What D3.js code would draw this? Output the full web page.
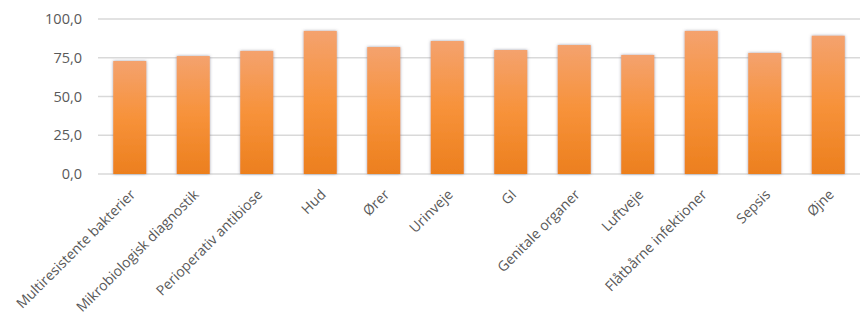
<!DOCTYPE html>
<html><head><meta charset="utf-8">
<script src="https://cdn.jsdelivr.net/npm/d3@7/dist/d3.min.js"></script>
<style>
html,body{margin:0;padding:0;background:#fff;}
svg{display:block;}
text{font-family:"Open Sans",sans-serif;fill:#595959;}
</style></head>
<body>
<svg id="chart" width="861" height="318"></svg>
<script>
const categories = ["Multiresistente bakterier","Mikrobiologisk diagnostik","Perioperativ antibiose","Hud","Ører","Urinveje","GI","Genitale organer","Luftveje","Flåtbårne infektioner","Sepsis","Øjne"];
const values = [72.9, 76.1, 79.4, 92.3, 81.9, 85.8, 80.0, 83.2, 76.8, 92.3, 78.1, 89.2];
const yTicks = [0, 25, 50, 75, 100];

(function(){
const svg = d3.select("#chart");
const mLeft = 98, mRight = 860, mTop = 19, mBottom = 174;

const x = d3.scaleBand().domain(categories).range([mLeft, mRight]).paddingInner(0.48).paddingOuter(0.24);
const y = d3.scaleLinear().domain([0, 100]).range([mBottom, mTop]);

const defs = svg.append("defs");
const grad = defs.append("linearGradient").attr("id","barGrad").attr("x1",0).attr("y1",0).attr("x2",0).attr("y2",1);
grad.append("stop").attr("offset","0%").attr("stop-color","#F4A26E");
grad.append("stop").attr("offset","50%").attr("stop-color","#F7923A");
grad.append("stop").attr("offset","100%").attr("stop-color","#EC7F1E");
const f = defs.append("filter").attr("id","shadow").attr("x","-30%").attr("y","-10%").attr("width","160%").attr("height","120%");
f.append("feDropShadow").attr("dx",0).attr("dy",0).attr("stdDeviation",1.6).attr("flood-color","#5a5a70").attr("flood-opacity",0.6);

svg.append("g").selectAll("line").data(yTicks).join("line")
  .attr("x1", mLeft).attr("x2", mRight)
  .attr("y1", d => y(d)).attr("y2", d => y(d))
  .attr("stroke", "#d9d9d9").attr("stroke-width", 1.3);

const fmt = d => d3.format(".1f")(d).replace(".", ",");
svg.append("g").selectAll("text").data(yTicks).join("text")
  .attr("x", 82).attr("y", d => y(d)).attr("dy", "0.35em")
  .attr("text-anchor", "end").style("font-size", "14.5px")
  .text(fmt);

svg.append("g").selectAll("rect").data(values).join("rect")
  .attr("x", (d,i) => x(categories[i]))
  .attr("width", x.bandwidth())
  .attr("y", d => y(d))
  .attr("height", d => y(0) - y(d))
  .attr("fill", "url(#barGrad)")
  .attr("filter", "url(#shadow)");

svg.append("g").selectAll("text").data(categories).join("text")
  .attr("transform", d => `translate(${x(d) + x.bandwidth()/2 + 3},${mBottom + 18}) rotate(-45)`)
  .attr("text-anchor", "end").attr("dy", "0.35em")
  .style("font-size", "14px")
  .text(d => d);
})();
</script>
</body></html>
